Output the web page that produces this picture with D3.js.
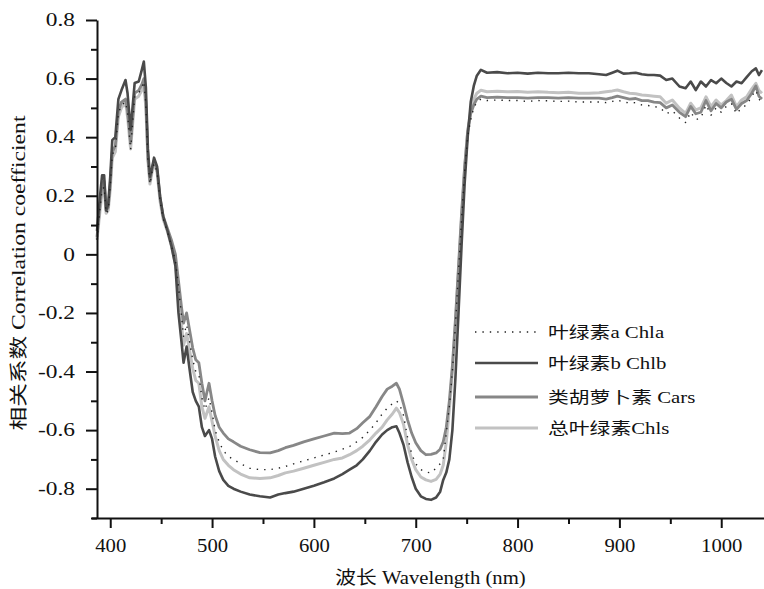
<!DOCTYPE html>
<html>
<head>
<meta charset="utf-8">
<script src="https://cdn.jsdelivr.net/npm/d3@7/dist/d3.min.js"></script>
<style>
  body { margin: 0; background: #fff; }
  svg { display: block; }
  text { font-family: "Liberation Serif", "Noto Sans CJK SC", serif; fill: #111; }
</style>
</head>
<body>
<svg class="chart" width="764" height="589"></svg>
<script>
// wavelength (nm), shared by all four series
const wavelength = [
  387, 390, 392, 394, 396, 398, 400, 402, 405, 408,
  411, 415, 417, 420, 424, 428, 431, 433, 435, 437,
  439, 441, 443, 446, 449, 452, 456, 460, 464, 467,
  470, 472, 475, 478, 481, 484, 487, 490, 493, 497,
  500, 503, 507, 511, 516, 521, 528, 537, 547, 557,
  565, 572, 580, 590, 600, 610, 620, 628, 635, 642,
  648, 655, 661, 667, 672, 677, 681, 684, 688, 692,
  696, 700, 705, 710, 715, 720, 724, 727, 730, 733,
  736, 739, 742, 745, 748, 751, 754, 757, 760, 764,
  770, 780, 790, 800, 810, 820, 830, 840, 850, 860,
  870, 880, 887, 893, 898, 904, 910, 916, 922, 928,
  934, 940, 946, 952, 959, 965, 970, 975, 980, 985,
  990, 995, 1000, 1005, 1010, 1015, 1020, 1025, 1030, 1034,
  1037, 1040
];

const chla = [
  0.05, 0.16, 0.22, 0.23, 0.14, 0.15, 0.23, 0.34, 0.36, 0.48,
  0.51, 0.52, 0.48, 0.357, 0.54, 0.55, 0.57, 0.59, 0.51, 0.32,
  0.24, 0.28, 0.31, 0.28, 0.18, 0.12, 0.08, 0.03, -0.02, -0.11,
  -0.21, -0.28, -0.24, -0.30, -0.36, -0.40, -0.41, -0.49, -0.53, -0.49,
  -0.54, -0.60, -0.64, -0.67, -0.69, -0.70, -0.715, -0.73, -0.735, -0.735,
  -0.73, -0.724, -0.715, -0.705, -0.695, -0.685, -0.675, -0.665, -0.656, -0.64,
  -0.625, -0.60, -0.575, -0.545, -0.525, -0.51, -0.50, -0.51, -0.55, -0.625,
  -0.68, -0.715, -0.735, -0.743, -0.746, -0.73, -0.715, -0.70, -0.61, -0.52,
  -0.40, -0.24, -0.06, 0.12, 0.28, 0.40, 0.46, 0.50, 0.52, 0.53,
  0.525, 0.527, 0.525, 0.525, 0.522, 0.525, 0.524, 0.522, 0.523, 0.52,
  0.52, 0.52, 0.518, 0.522, 0.527, 0.52, 0.517, 0.518, 0.51, 0.508,
  0.505, 0.50, 0.48, 0.49, 0.465, 0.45, 0.485, 0.46, 0.465, 0.51,
  0.475, 0.50, 0.485, 0.505, 0.515, 0.48, 0.50, 0.51, 0.54, 0.56,
  0.53, 0.52
];

const chlb = [
  0.08, 0.20, 0.27, 0.27, 0.15, 0.17, 0.265, 0.39, 0.40, 0.53,
  0.56, 0.595, 0.55, 0.425, 0.585, 0.59, 0.63, 0.658, 0.57, 0.36,
  0.265, 0.295, 0.33, 0.30, 0.197, 0.13, 0.083, 0.03, -0.04, -0.20,
  -0.30, -0.37, -0.315, -0.394, -0.47, -0.50, -0.52, -0.59, -0.62, -0.60,
  -0.63, -0.69, -0.74, -0.77, -0.79, -0.80, -0.81, -0.82, -0.826, -0.83,
  -0.82, -0.815, -0.81, -0.80, -0.79, -0.778, -0.765, -0.75, -0.735, -0.72,
  -0.70, -0.67, -0.64, -0.615, -0.60, -0.59, -0.587, -0.61, -0.65, -0.71,
  -0.76, -0.80, -0.826, -0.835, -0.838, -0.83, -0.81, -0.77, -0.745, -0.70,
  -0.60, -0.42, -0.20, 0.03, 0.24, 0.40, 0.52, 0.575, 0.61, 0.63,
  0.62, 0.622, 0.618, 0.62, 0.617, 0.62, 0.618, 0.618, 0.62, 0.618,
  0.618, 0.615, 0.612, 0.62, 0.627, 0.617, 0.618, 0.62, 0.615, 0.612,
  0.612, 0.61, 0.595, 0.60, 0.573, 0.567, 0.59, 0.561, 0.59, 0.573,
  0.595, 0.584, 0.60, 0.585, 0.573, 0.59, 0.584, 0.605, 0.625, 0.635,
  0.612, 0.629
];

const cars = [
  0.06, 0.17, 0.24, 0.25, 0.15, 0.16, 0.24, 0.35, 0.37, 0.49,
  0.52, 0.53, 0.49, 0.38, 0.55, 0.56, 0.58, 0.60, 0.52, 0.33,
  0.25, 0.29, 0.32, 0.29, 0.19, 0.13, 0.09, 0.05, 0.00, -0.09,
  -0.18, -0.235, -0.20, -0.26, -0.32, -0.36, -0.37, -0.44, -0.50, -0.44,
  -0.50, -0.55, -0.59, -0.61, -0.63, -0.64, -0.655, -0.667, -0.677, -0.678,
  -0.67, -0.66, -0.652, -0.64, -0.63, -0.62, -0.61, -0.612, -0.61, -0.595,
  -0.575, -0.553, -0.52, -0.485, -0.46, -0.45, -0.44, -0.46, -0.51, -0.565,
  -0.61, -0.643, -0.67, -0.684, -0.683, -0.678, -0.665, -0.64, -0.59, -0.50,
  -0.38, -0.22, -0.04, 0.14, 0.30, 0.42, 0.48, 0.51, 0.53, 0.54,
  0.535, 0.537, 0.535, 0.535, 0.533, 0.535, 0.535, 0.533, 0.535, 0.533,
  0.533, 0.533, 0.53, 0.535, 0.54, 0.535, 0.53, 0.532, 0.525, 0.525,
  0.52, 0.518, 0.50, 0.51, 0.485, 0.47, 0.505, 0.48, 0.485, 0.525,
  0.49, 0.515, 0.50, 0.52, 0.53, 0.495, 0.515, 0.525, 0.55, 0.575,
  0.54, 0.53
];

const chls = [
  0.05, 0.15, 0.21, 0.22, 0.14, 0.15, 0.22, 0.33, 0.35, 0.47,
  0.50, 0.52, 0.47, 0.36, 0.53, 0.54, 0.56, 0.58, 0.50, 0.32,
  0.24, 0.28, 0.31, 0.28, 0.18, 0.12, 0.08, 0.03, -0.03, -0.13,
  -0.24, -0.31, -0.27, -0.33, -0.39, -0.43, -0.44, -0.52, -0.56, -0.52,
  -0.57, -0.62, -0.67, -0.70, -0.72, -0.735, -0.75, -0.763, -0.765, -0.763,
  -0.755, -0.746, -0.74, -0.73, -0.72, -0.71, -0.70, -0.695, -0.684, -0.67,
  -0.655, -0.633, -0.61, -0.59, -0.565, -0.545, -0.525, -0.54, -0.58, -0.65,
  -0.70, -0.735, -0.76, -0.77, -0.775, -0.768, -0.75, -0.72, -0.64, -0.53,
  -0.40, -0.24, -0.06, 0.12, 0.29, 0.42, 0.49, 0.53, 0.55, 0.56,
  0.555, 0.557, 0.555, 0.556, 0.553, 0.555, 0.553, 0.552, 0.553, 0.55,
  0.55, 0.552, 0.555, 0.558, 0.561, 0.555, 0.55, 0.548, 0.544, 0.542,
  0.54, 0.538, 0.516, 0.527, 0.499, 0.481, 0.516, 0.493, 0.50, 0.538,
  0.504, 0.527, 0.51, 0.525, 0.544, 0.504, 0.527, 0.538, 0.565, 0.584,
  0.56, 0.55
];

const seriesNames = ["叶绿素a Chla", "叶绿素b Chlb", "类胡萝卜素 Cars", "总叶绿素Chls"];
const seriesValues = [chla, chlb, cars, chls];
const xTicks = [400, 500, 600, 700, 800, 900, 1000];
const xMinorTicks = [450, 550, 650, 750, 850, 950];
const yTicks = [-0.8, -0.6, -0.4, -0.2, 0, 0.2, 0.4, 0.6, 0.8];
const yMinorTicks = [-0.9, -0.7, -0.5, -0.3, -0.1, 0.1, 0.3, 0.5, 0.7];

////////////////////////////////////////////////////////////
//// Setup /////////////////////////////////////////////////
////////////////////////////////////////////////////////////
const svg = d3.select(".chart");
const plot = { left: 97, right: 764, top: 20, bottom: 518 };
const stretch = 1.3; // glyphs in the source are wide

const styles = [
  { color: "#222", width: 1.4, dash: "1.4,6" },
  { color: "#4a4a4a", width: 2.6, dash: null },
  { color: "#878787", width: 2.8, dash: null },
  { color: "#c2c2c2", width: 3, dash: null }
];

const x = d3.scaleLinear().domain([387, 1042]).range([plot.left, plot.right]);
const y = d3.scaleLinear().domain([-0.9, 0.8]).range([plot.bottom, plot.top]);

function widen(sel, k) {
  sel.each(function () {
    const w = this.getComputedTextLength();
    d3.select(this).attr("textLength", w * k).attr("lengthAdjust", "spacingAndGlyphs");
  });
}

////////////////////////////////////////////////////////////
//// Lines /////////////////////////////////////////////////
////////////////////////////////////////////////////////////
const line = d3.line()
  .x((d, i) => x(wavelength[i]))
  .y(d => y(d));

const gLines = svg.append("g").attr("fill", "none");
// draw order: light first, dotted last
[3, 2, 1, 0].forEach(i => {
  gLines.append("path")
    .datum(seriesValues[i])
    .attr("d", line)
    .attr("stroke", styles[i].color)
    .attr("stroke-width", styles[i].width)
    .attr("stroke-dasharray", styles[i].dash)
    .attr("stroke-linejoin", "round");
});

////////////////////////////////////////////////////////////
//// Axes //////////////////////////////////////////////////
////////////////////////////////////////////////////////////
const fmt = d => (d === 0 ? "0" : d.toFixed(1));

const gy = svg.append("g")
  .attr("transform", `translate(${plot.left},0)`)
  .call(d3.axisLeft(y).tickValues(yTicks).tickFormat(fmt).tickSize(11).tickSizeOuter(0).tickPadding(11));
svg.append("g")
  .attr("transform", `translate(${plot.left},0)`)
  .call(d3.axisLeft(y).tickValues(yMinorTicks).tickFormat("").tickSize(6).tickSizeOuter(0))
  .select(".domain").remove();

const gx = svg.append("g")
  .attr("transform", `translate(0,${plot.bottom})`)
  .call(d3.axisBottom(x).tickValues(xTicks).tickFormat(d3.format("d")).tickSize(10).tickSizeOuter(0).tickPadding(11));
svg.append("g")
  .attr("transform", `translate(0,${plot.bottom})`)
  .call(d3.axisBottom(x).tickValues(xMinorTicks).tickFormat("").tickSize(6).tickSizeOuter(0))
  .select(".domain").remove();

svg.selectAll(".domain, .tick line").attr("stroke", "#111").attr("stroke-width", 2);
gx.select(".domain").attr("d", `M${plot.left - 5},0.5H${plot.right}`);

gy.selectAll(".tick text").style("font-size", "18px").style("font-family", "Liberation Serif").call(widen, stretch);
gx.selectAll(".tick text").style("font-size", "18px").style("font-family", "Liberation Serif").call(widen, 1.15);

svg.append("text")
  .attr("transform", `translate(25,${(plot.top + plot.bottom) / 2 + 4}) rotate(-90)`)
  .attr("text-anchor", "middle")
  .style("font-size", "18px")
  .text("相关系数 Correlation coefficient")
  .attr("textLength", 315)
  .attr("lengthAdjust", "spacingAndGlyphs");

svg.append("text")
  .attr("x", (plot.left + plot.right) / 2)
  .attr("y", 584)
  .attr("text-anchor", "middle")
  .style("font-size", "18px")
  .text("波长 Wavelength (nm)")
  .call(widen, 1.15);

////////////////////////////////////////////////////////////
//// Legend ////////////////////////////////////////////////
////////////////////////////////////////////////////////////
const legendRows = [332, 363, 397, 428];
const legend = svg.append("g");
seriesNames.forEach((name, i) => {
  const row = legend.append("g").attr("transform", `translate(475,${legendRows[i]})`);
  row.append("line")
    .attr("x1", 0).attr("x2", 63)
    .attr("stroke", styles[i].color)
    .attr("stroke-width", styles[i].width)
    .attr("stroke-dasharray", styles[i].dash);
  row.append("text")
    .attr("x", 73)
    .attr("dy", "0.35em")
    .style("font-size", "16px")
    .text(name)
    .call(widen, 1.3);
});
</script>
</body>
</html>
